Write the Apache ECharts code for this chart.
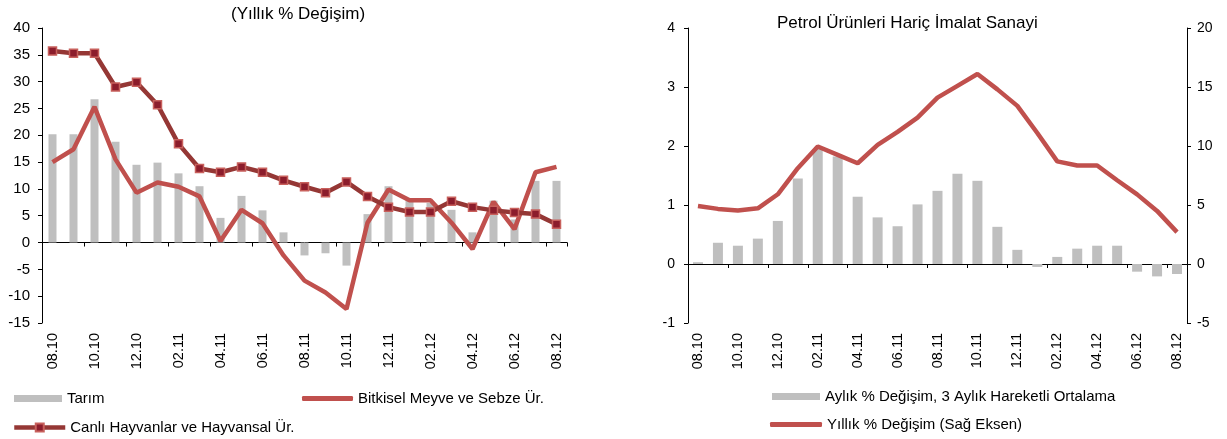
<!DOCTYPE html>
<html>
<head>
<meta charset="utf-8">
<title>Tarım / İmalat Sanayi</title>
<script src="https://cdn.jsdelivr.net/npm/echarts/dist/echarts.min.js"></script>
<style>
	html, body { margin: 0; padding: 0; background: #fff; }
	#main { width: 1227px; height: 439px; }
</style>
</head>
<body>
<div id="main"></div>
<script>
// aylar: 08.10 - 08.12
var cats = ['08.10','09.10','10.10','11.10','12.10','01.11','02.11','03.11','04.11','05.11','06.11','07.11',
	'08.11','09.11','10.11','11.11','12.11','01.12','02.12','03.12','04.12','05.12','06.12','07.12','08.12'];

// sol grafik (Yıllık % Değişim)
var tarim = [20.2, 20.2, 26.7, 18.8, 14.5, 14.9, 12.9, 10.5, 4.6, 8.7, 6.0, 1.9, -2.4, -2.0, -4.3, 5.3, 10.5, 8.3, 7.4, 6.1, 1.9, 7.8, 4.3, 11.5, 11.5];
var bitkisel = [15.0, 17.4, 25.3, 15.5, 9.3, 11.2, 10.4, 8.6, 0.3, 6.1, 3.6, -2.4, -7.1, -9.3, -12.4, 3.7, 9.9, 7.9, 7.9, 3.7, -1.2, 7.6, 2.5, 13.1, 14.1];
var canli = [35.7, 35.3, 35.3, 29.0, 29.9, 25.7, 18.4, 13.8, 13.1, 14.1, 13.1, 11.6, 10.4, 9.3, 11.3, 8.6, 6.6, 5.7, 5.7, 7.7, 6.6, 6.0, 5.6, 5.3, 3.4];

// sağ grafik (Petrol Ürünleri Hariç İmalat Sanayi)
var aylik = [0.03, 0.36, 0.31, 0.43, 0.73, 1.45, 1.95, 1.82, 1.14, 0.79, 0.64, 1.01, 1.24, 1.53, 1.41, 0.63, 0.24, -0.05, 0.12, 0.26, 0.31, 0.31, -0.13, -0.21, -0.17];
var yillik = [4.92, 4.67, 4.53, 4.72, 5.91, 8.12, 9.96, 9.25, 8.54, 10.1, 11.2, 12.4, 14.1, 15.1, 16.1, 14.8, 13.4, 11.1, 8.7, 8.35, 8.35, 7.1, 5.9, 4.5, 2.7];

var font = 'Liberation Sans, Arial, sans-serif';
var legendText = { fontSize: 15, color: '#000', fontFamily: font };

function labelAxis(grid){ // alttaki etiketler
	return {
		type: 'category', gridIndex: grid, data: cats, position: 'bottom',
		axisLine: { show: false, onZero: false },
		axisTick: { show: false },
		axisLabel: { interval: 1, rotate: 90, margin: 10, fontSize: 14.5, color: '#000', fontFamily: font }
	};
}
function zeroAxis(grid, yIdx){ // sıfır çizgisi + tikler
	return {
		type: 'category', gridIndex: grid, data: cats, position: 'bottom',
		axisLine: { show: true, onZero: true, onZeroAxisIndex: yIdx, lineStyle: { color: '#000', width: 1 } },
		axisTick: { show: true, interval: 1, length: 4, lineStyle: { color: '#000' } },
		axisLabel: { show: false }
	};
}
function valAxis(grid, min, max, step, pos, margin, size){
	return {
		type: 'value', gridIndex: grid, min: min, max: max, interval: step, position: pos,
		axisLine: { show: true, lineStyle: { color: '#000', width: 1 } },
		axisTick: { show: true, length: 4, lineStyle: { color: '#000' } },
		splitLine: { show: false },
		axisLabel: { margin: margin, fontSize: size, color: '#000', fontFamily: font }
	};
}

var myChart = echarts.init(document.getElementById('main'));
var option = {
	animation: false,
	textStyle: { fontFamily: font },
	title: [
		{ text: '(Yıllık % Değişim)', left: 231, top: 6, padding: 0, textStyle: { fontSize: 17, fontWeight: 'normal', color: '#000', fontFamily: font } },
		{ text: 'Petrol Ürünleri Hariç İmalat Sanayi', left: 777, top: 15, padding: 0, textStyle: { fontSize: 17, fontWeight: 'normal', color: '#000', fontFamily: font } }
	],
	grid: [
		{ left: 42, top: 28, width: 525, height: 295 },
		{ left: 688, top: 28, width: 499, height: 295 }
	],
	xAxis: [labelAxis(0), zeroAxis(0, 0), labelAxis(1), zeroAxis(1, 1)],
	yAxis: [
		valAxis(0, -15, 40, 5, 'left', 12, 15),
		valAxis(1, -1, 4, 1, 'left', 13, 14),
		valAxis(1, -5, 20, 5, 'right', 10, 14)
	],
	legend: [
		{ data: ['Tarım'], left: 14, top: 391, padding: 0, itemWidth: 48, itemHeight: 7, icon: 'rect', textStyle: legendText },
		{ data: ['Bitkisel Meyve ve Sebze Ür.'], left: 302, top: 391, padding: 0, itemWidth: 51, itemHeight: 5, icon: 'roundRect', textStyle: legendText },
		{ data: ['Canlı Hayvanlar ve Hayvansal Ür.'], left: 12, top: 420, padding: 0, itemWidth: 51, itemHeight: 10, lineStyle: { width: 4.5 }, textStyle: legendText },
		{ data: ['Aylık % Değişim, 3 Aylık Hareketli Ortalama'], left: 772, top: 389, padding: 0, itemWidth: 48, itemHeight: 7, icon: 'rect', textStyle: legendText },
		{ data: ['Yıllık % Değişim (Sağ Eksen)'], left: 770, top: 417, padding: 0, itemWidth: 52, itemHeight: 5, icon: 'roundRect', textStyle: legendText }
	],
	series: [
		{
			name: 'Tarım', type: 'bar', xAxisIndex: 0, yAxisIndex: 0,
			data: tarim, barWidth: 8,
			itemStyle: { color: '#BFBFBF' }
		},
		{
			name: 'Bitkisel Meyve ve Sebze Ür.', type: 'line', xAxisIndex: 0, yAxisIndex: 0,
			data: bitkisel, symbol: 'none',
			lineStyle: { color: '#C0504D', width: 4.5 },
			itemStyle: { color: '#C0504D' }
		},
		{
			name: 'Canlı Hayvanlar ve Hayvansal Ür.', type: 'line', xAxisIndex: 0, yAxisIndex: 0,
			data: canli, symbol: 'rect', symbolSize: 8, showAllSymbol: true,
			lineStyle: { color: '#953735', width: 4.5 },
			itemStyle: { color: '#8C1D2C', borderColor: '#C8605C', borderWidth: 1.5 }
		},
		{
			name: 'Aylık % Değişim, 3 Aylık Hareketli Ortalama', type: 'bar', xAxisIndex: 2, yAxisIndex: 1,
			data: aylik, barWidth: 10,
			itemStyle: { color: '#BFBFBF' }
		},
		{
			name: 'Yıllık % Değişim (Sağ Eksen)', type: 'line', xAxisIndex: 2, yAxisIndex: 2,
			data: yillik, symbol: 'none',
			lineStyle: { color: '#C0504D', width: 4.5 },
			itemStyle: { color: '#C0504D' }
		}
	]
};
myChart.setOption(option);
</script>
</body>
</html>
